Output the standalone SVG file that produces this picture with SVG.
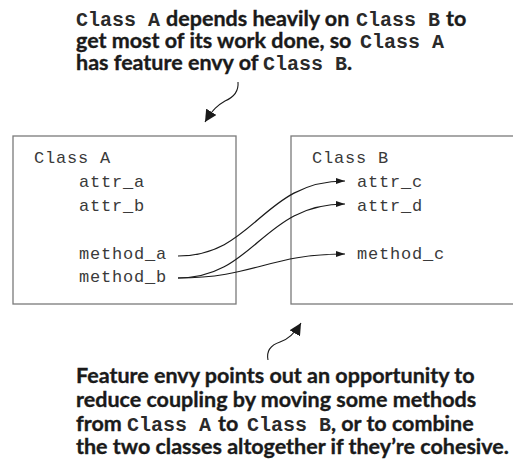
<svg xmlns="http://www.w3.org/2000/svg" width="513" height="464" viewBox="0 0 513 464">
<defs>
<style>
.box{fill:#fff;stroke:#7a7a7a;stroke-width:1.3}
.code{font-family:"Liberation Mono","Courier New",monospace;font-size:17px;letter-spacing:0.8px;fill:#3a3a3a}
.note{font-family:Lato,"Open Sans",sans-serif;font-weight:bold;font-size:21.5px;fill:#1a1a1a;stroke:#1a1a1a;stroke-width:0.35}
.mono{font-family:"Liberation Mono","Courier New",monospace;font-weight:bold;font-size:20px;fill:#2a2a2a}
.conn{fill:none;stroke:#1a1a1a;stroke-width:1.2}
.call{fill:none;stroke:#1a1a1a;stroke-width:1.1}
</style>
<marker id="ah" markerWidth="10" markerHeight="8" refX="9" refY="4" orient="auto" markerUnits="userSpaceOnUse">
<path d="M0,1 L9,4 L0,7 Z" fill="#1a1a1a"/>
</marker>
<marker id="ahBig" markerWidth="14" markerHeight="12" refX="12" refY="6" orient="auto" markerUnits="userSpaceOnUse">
<path d="M0,0 L12,6 L0,12 Z" fill="#1a1a1a"/>
</marker>
</defs>
<rect width="513" height="464" fill="#fff"/>
<g id="note-top">
<text class="mono" x="76" y="26">Class A</text>
<text class="note" x="166" y="26">depends heavily on</text>
<text class="mono" x="356" y="26">Class B</text>
<text class="note" x="446" y="26">to</text>
<text class="note" x="76" y="48">get most of its work done, so</text>
<text class="mono" x="360" y="48">Class A</text>
<text class="note" x="76" y="70">has feature envy of</text>
<text class="mono" x="263" y="70">Class B</text>
<text class="note" x="347" y="70">.</text>
</g>
<g id="classA">
<rect class="box" x="13" y="136" width="223" height="168"/>
<text class="code" x="34" y="163">Class A</text>
<text class="code" x="79" y="187">attr_a</text>
<text class="code" x="79" y="211">attr_b</text>
<text class="code" x="79" y="259">method_a</text>
<text class="code" x="79" y="282">method_b</text>
</g>
<g id="classB">
<rect class="box" x="291" y="136" width="240" height="168"/>
<text class="code" x="312" y="163">Class B</text>
<text class="code" x="357" y="187">attr_c</text>
<text class="code" x="357" y="211">attr_d</text>
<text class="code" x="357" y="259">method_c</text>
</g>
<g id="note-bottom">
<text class="note" x="76" y="383">Feature envy points out an opportunity to</text>
<text class="note" x="76" y="407">reduce coupling by moving some methods</text>
<text class="note" x="76" y="431">from</text>
<text class="mono" x="127" y="431">Class A</text>
<text class="note" x="218" y="431">to</text>
<text class="mono" x="247" y="431">Class B</text>
<text class="note" x="331" y="431">, or to combine</text>
<text class="note" x="76" y="454">the two classes altogether if they’re cohesive.</text>
</g>
<g id="connectors">
<path class="conn" d="M178,256 C255,256 262,181 345,181" marker-end="url(#ah)"/>
<path class="conn" d="M178,278 C255,278 262,204 345,204" marker-end="url(#ah)"/>
<path class="conn" d="M178,278 C255,278 268,254 345,254" marker-end="url(#ah)"/>
<path class="call" d="M238,82 C239,93 232,98 225,101 C218,105 213,109 205,122" marker-end="url(#ahBig)"/>
<path class="call" d="M268,360 C266,350 271,345 280,342 C289,339 295,333 301,323" marker-end="url(#ahBig)"/>
</g>
</svg>
